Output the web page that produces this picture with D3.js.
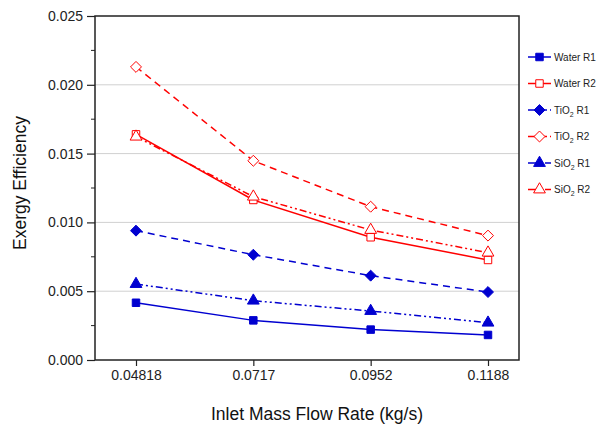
<!DOCTYPE html>
<html>
<head>
<meta charset="utf-8">
<script src="https://cdn.jsdelivr.net/npm/d3@7"></script>
<style>
  body { margin: 0; background: #fff; }
  svg { display: block; font-family: "Liberation Sans", Arial, sans-serif; }
</style>
</head>
<body>
<svg id="chart" width="596" height="428"></svg>
<script>
// data
const flowRates = ["0.04818", "0.0717", "0.0952", "0.1188"];
const waterR1 = [0.00416, 0.00288, 0.00221, 0.00182];
const waterR2 = [0.01640, 0.01163, 0.00892, 0.00727];
const tio2R1  = [0.00940, 0.00765, 0.00613, 0.00494];
const tio2R2  = [0.02130, 0.01448, 0.01114, 0.00904];
const sio2R1  = [0.00552, 0.00431, 0.00356, 0.00271];
const sio2R2  = [0.01623, 0.01187, 0.00945, 0.00780];
const yTicks = [0, 0.005, 0.010, 0.015, 0.020, 0.025];

const BLUE = "#0000d0", RED = "#ff0000";

// square turned 45 degrees, like the origin diamond
const squareDiamond = {
  draw(ctx, size) {
    const r = Math.sqrt(size / 2);
    ctx.moveTo(0, -r);
    ctx.lineTo(r, 0);
    ctx.lineTo(0, r);
    ctx.lineTo(-r, 0);
    ctx.closePath();
  }
};

const series = [
  {name: "Water", sub: "", tag: " R1", values: waterR1, color: BLUE, dash: null, shape: d3.symbolSquare, fill: true},
  {name: "Water", sub: "", tag: " R2", values: waterR2, color: RED, dash: null, shape: d3.symbolSquare, fill: false},
  {name: "TiO", sub: "2", tag: " R1", values: tio2R1, color: BLUE, dash: "7,5", shape: squareDiamond, fill: true},
  {name: "TiO", sub: "2", tag: " R2", values: tio2R2, color: RED, dash: "7,5", shape: squareDiamond, fill: false},
  {name: "SiO", sub: "2", tag: " R1", values: sio2R1, color: BLUE, dash: "7,3,2,3,2,3", shape: d3.symbolTriangle, fill: true},
  {name: "SiO", sub: "2", tag: " R2", values: sio2R2, color: RED, dash: "7,3,2,3,2,3", shape: d3.symbolTriangle, fill: false}
];

const svg = d3.select("#chart");
const plot = {left: 95, right: 519, top: 16, bottom: 360};

const x = d3.scalePoint()
    .domain(flowRates)
    .range([136, 488]);

const y = d3.scaleLinear()
    .domain([0, 0.025])
    .range([plot.bottom, plot.top]);

// gridlines
svg.append("g")
  .selectAll("line")
  .data(yTicks.slice(1, -1))
  .join("line")
    .attr("x1", plot.left).attr("x2", plot.right)
    .attr("y1", d => y(d)).attr("y2", d => y(d))
    .attr("stroke", "#d0d0d0")
    .attr("stroke-width", 1);

// frame
svg.append("rect")
    .attr("x", plot.left).attr("y", plot.top)
    .attr("width", plot.right - plot.left)
    .attr("height", plot.bottom - plot.top)
    .attr("fill", "none")
    .attr("stroke", "#222")
    .attr("stroke-width", 1.5);

// y axis
const yAxis = svg.append("g")
    .attr("transform", `translate(${plot.left},0)`)
    .call(d3.axisLeft(y).tickValues(yTicks).tickFormat(d3.format(".3f")).tickSize(8).tickPadding(4));
yAxis.select(".domain").remove();

// minor y ticks
svg.append("g")
  .selectAll("line")
  .data(d3.range(0.0025, 0.025, 0.005))
  .join("line")
    .attr("x1", plot.left - 4).attr("x2", plot.left)
    .attr("y1", d => y(d)).attr("y2", d => y(d))
    .attr("stroke", "#222");

// x axis
const xAxis = svg.append("g")
    .attr("transform", `translate(0,${plot.bottom})`)
    .call(d3.axisBottom(x).tickSize(6).tickPadding(4));
xAxis.select(".domain").remove();

svg.selectAll(".tick text")
    .attr("font-size", 14)
    .attr("font-family", "Liberation Sans, Arial, sans-serif")
    .attr("fill", "#222");
svg.selectAll(".tick line").attr("stroke", "#222").attr("stroke-width", 1.2);

// axis titles
svg.append("text")
    .attr("x", 317).attr("y", 420)
    .attr("text-anchor", "middle")
    .attr("font-size", 17.5)
    .attr("fill", "#111")
    .text("Inlet Mass Flow Rate (kg/s)");

svg.append("text")
    .attr("transform", "translate(26,183) rotate(-90)")
    .attr("text-anchor", "middle")
    .attr("font-size", 17.5)
    .attr("fill", "#111")
    .text("Exergy Efficiency");

// lines and markers
const line = d3.line()
    .x((d, i) => x(flowRates[i]))
    .y(d => y(d));

const symbolSize = s => s === d3.symbolTriangle ? 60 : (s === squareDiamond ? 60 : 56);

series.forEach(s => {
  svg.append("path")
      .datum(s.values)
      .attr("d", line)
      .attr("fill", "none")
      .attr("stroke", s.color)
      .attr("stroke-width", 1.5)
      .attr("stroke-dasharray", s.dash);

  svg.append("g")
    .selectAll("path")
    .data(s.values)
    .join("path")
      .attr("transform", (d, i) => `translate(${x(flowRates[i])},${y(d)})`)
      .attr("d", d3.symbol().type(s.shape).size(symbolSize(s.shape)))
      .attr("fill", s.fill ? s.color : "#fff")
      .attr("stroke", s.color)
      .attr("stroke-width", 1);
});

// legend
const legend = svg.append("g");
series.forEach((s, i) => {
  const ly = 57 + i * 26.5;
  legend.append("line")
      .attr("x1", 528).attr("x2", 551)
      .attr("y1", ly).attr("y2", ly)
      .attr("stroke", s.color)
      .attr("stroke-width", 1.5)
      .attr("stroke-dasharray", s.dash ? (s.shape === d3.symbolTriangle ? "9,3,2,3" : "8,3") : null);
  legend.append("path")
      .attr("transform", `translate(539.5,${ly})`)
      .attr("d", d3.symbol().type(s.shape).size(symbolSize(s.shape)))
      .attr("fill", s.fill ? s.color : "#fff")
      .attr("stroke", s.color);
  const t = legend.append("text")
      .attr("x", 554).attr("y", ly + 3.5)
      .attr("font-size", 10)
      .attr("fill", "#222");
  t.append("tspan").text(s.name);
  if (s.sub) t.append("tspan").attr("font-size", 7).attr("dy", 3).text(s.sub);
  t.append("tspan").attr("dy", s.sub ? -3 : 0).text(s.tag);
});
</script>
</body>
</html>
